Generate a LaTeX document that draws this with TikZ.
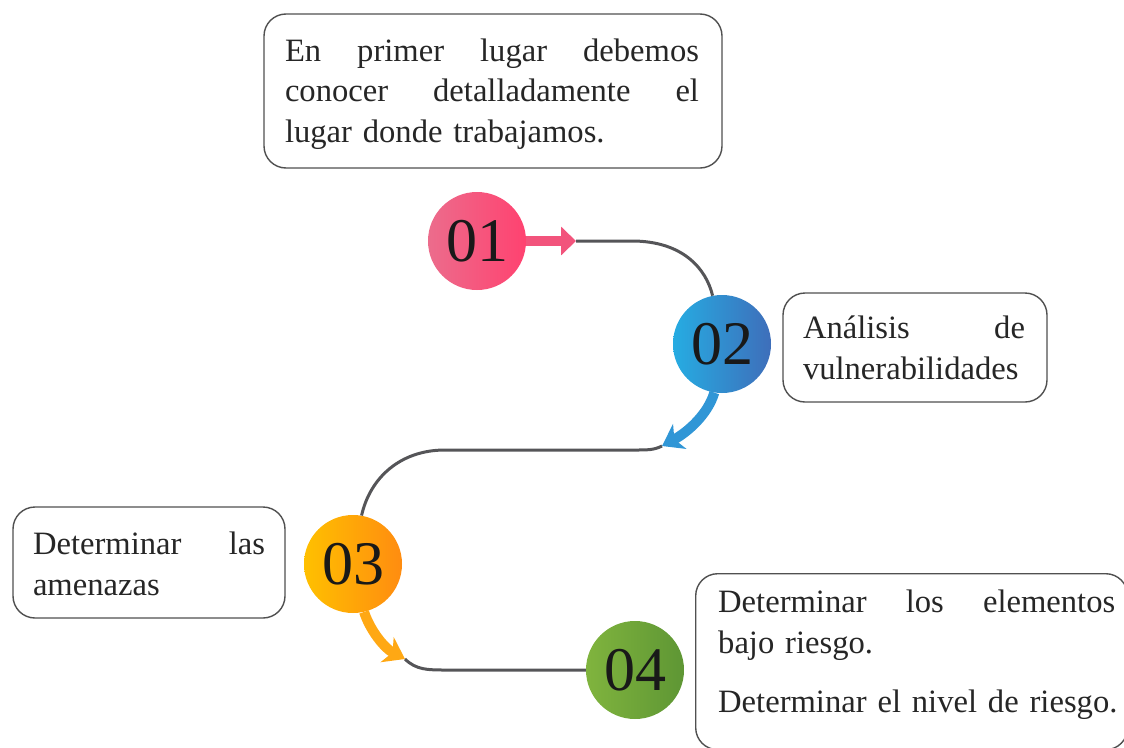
\documentclass[tikz,border=0pt]{standalone}
\usepackage{fontspec}
\setmainfont{Liberation Serif}
\usetikzlibrary{arrows.meta}
\definecolor{lineg}{RGB}{85,85,88}
\definecolor{boxg}{RGB}{80,80,80}
\definecolor{pinkL}{RGB}{236,108,140}
\definecolor{pinkR}{RGB}{255,66,112}
\definecolor{pinkA}{RGB}{242,84,124}
\definecolor{blueL}{RGB}{38,172,226}
\definecolor{blueR}{RGB}{62,110,186}
\definecolor{blueA}{RGB}{48,150,214}
\definecolor{orL}{RGB}{255,192,0}
\definecolor{orR}{RGB}{255,140,16}
\definecolor{orA}{RGB}{255,168,20}
\definecolor{grL}{RGB}{128,180,62}
\definecolor{grR}{RGB}{94,150,52}
\tikzset{
  numc/.style={circle, minimum size=98pt, inner sep=0pt, shading=axis, shading angle=90,
    font=\fontsize{62}{62}\selectfont, text=black!90},
  boxn/.style={draw=boxg, line width=1.4pt, rounded corners=22pt, fill=white},
  txt/.style={font=\fontsize{32.6}{40.5}\selectfont, align=left, inner sep=0pt, text=black!85},
  gline/.style={draw=lineg, line width=3pt},
  thickarrow/.style={line width=10pt}
}
\begin{document}
\begin{tikzpicture}[x=1pt,y=-1pt]
\useasboundingbox (0,0) rectangle (1124,747);
\clip (0,0) rectangle (1124,747);

% circles
\node[numc, left color=pinkL, right color=pinkR] (c1) at (477,241) {01};
\node[numc, left color=blueL, right color=blueR] (c2) at (722,344) {02};
\node[numc, left color=orL, right color=orR] (c3) at (353,564) {03};
\node[numc, left color=grL, right color=grR] (c4) at (635,670) {04};

% boxes
\node[boxn, minimum width=458pt, minimum height=154pt] (b1) at (493,91) {};
\node[txt, text width=414pt] (t1) at (492,94) {En\hfill primer\hfill lugar\hfill debemos\\conocer\hfill detalladamente\hfill el\\lugar donde trabajamos.};

\node[boxn, minimum width=264pt, minimum height=109pt] (b2) at (915,347.5) {};
\node[txt, text width=222pt] (t2) at (914,348) {Análisis\hfill de\\vulnerabilidades};

\node[boxn, minimum width=272pt, minimum height=111pt] (b3) at (149,562.5) {};
\node[txt, text width=232pt] (t3) at (149,564) {Determinar\hfill las\\amenazas};

\node[boxn, minimum width=432pt, minimum height=176pt, anchor=north west] (b4) at (695,573) {};
\node[txt, text width=397pt, anchor=north west] (t4) at (718,590) {Determinar\hfill los\hfill elementos\\bajo riesgo.\\[19pt]\mbox{Determinar el nivel de riesgo.}};

% connectors
\coordinate (a1) at (576,241);
\coordinate (a2) at (662,446);
\coordinate (a3) at (405,659);

\draw[pinkA, thickarrow, -{Triangle[length=15pt,width=28pt]}] (c1.east) -- (a1);
\draw[gline] (a1) -- (632,241) .. controls (682,241) and (706,268) .. (c2.101);

\draw[blueA, thickarrow, -{Stealth[length=20pt,width=28pt,inset=6pt]}] (c2.261) .. controls (708,414) and (688,432) .. (a2);
\draw[gline] (a2) .. controls (654,450) and (648,450) .. (635,450) -- (445,450) .. controls (400,450) and (370,478) .. (c3.80);

\draw[orA, thickarrow, -{Stealth[length=20pt,width=28pt,inset=6pt]}] (c3.283) .. controls (370,630) and (384,648) .. (a3);
\draw[gline] (a3) .. controls (416,670) and (428,670) .. (446,670) -- (c4.west);
\end{tikzpicture}
\end{document}
